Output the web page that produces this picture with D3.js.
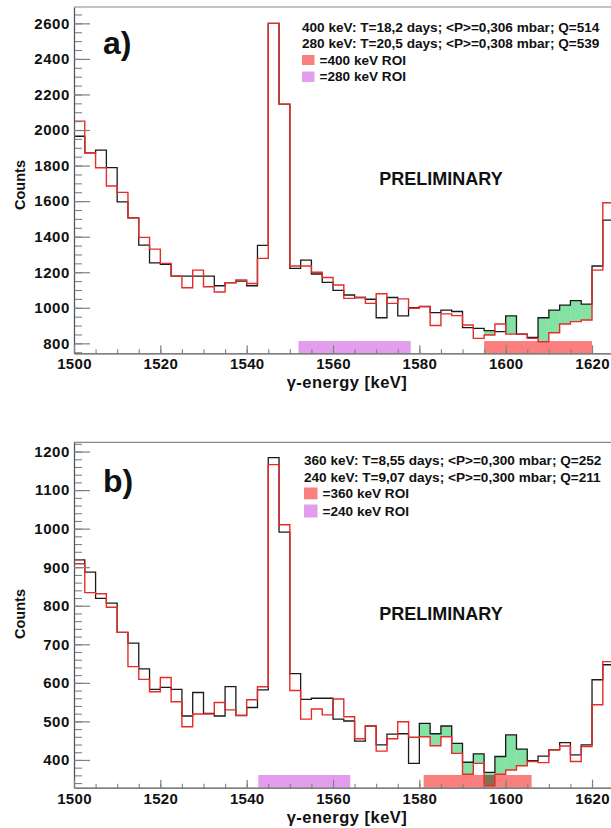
<!DOCTYPE html>
<html><head><meta charset="utf-8">
<script src="https://cdn.jsdelivr.net/npm/d3@7"></script>
<style>
body{margin:0;background:#fff;overflow:hidden}
text{font-family:"Liberation Sans",Arial,Helvetica,sans-serif;font-weight:bold;fill:#111}
</style>
</head><body><svg id="c" width="611" height="828"></svg>
<script>
// ---------- data ----------
const binStart = 1500, binWidth = 2.5;
const energyDomain = [1500, 1625];
const energyMajorTicks = [1500, 1520, 1540, 1560, 1580, 1600, 1620];
const energyMinorTicks = d3.range(1500, 1626, 5);

// panel a)
const countsA_black = [1965,1872,1887,1788,1596,1506,1353,1253,1244,1178,
  1178,1178,1178,1124,1141,1150,1124,1351,2600,2146,
  1222,1268,1190,1143,1098,1072,1058,1048,944,1058,
  954,1001,1008,973,987,979,888,884,871,866,
  954,852,834,944,987,1015,1040,1021,1235,1493];
const countsA_red = [2050,1872,1788,1685,1649,1506,1396,1330,1250,1178,
  1113,1212,1118,1089,1141,1156,1137,1278,2600,2144,
  1235,1235,1200,1170,1128,1053,1058,1025,1079,1025,
  1050,997,1006,900,966,956,903,828,847,909,
  852,852,828,809,860,909,922,931,1212,1591];
const yDomainA = [744, 2692];
const yMajorTicksA = [800,1000,1200,1400,1600,1800,2000,2200,2400,2600];
const yMinorTicksA = d3.range(750, 2692, 50);
const roiA_first = [1595, 1620];   // 400 keV ROI
const roiA_second = [1552, 1578];  // 280 keV ROI
const roiTopA = 813;
const excessRangeA = [1595, 1620];
const infoA = ["400 keV: T=18,2 days; <P>=0,306 mbar; Q=514",
               "280 keV: T=20,5 days; <P>=0,308 mbar; Q=539"];
const roiLabelsA = ["=400 keV ROI", "=280 keV ROI"];

// panel b)
const countsB_black = [919,887,819,807,731,703,636,583,588,583,
  514,575,521,514,590,515,536,582,1184,991,
  624,557,560,560,506,501,449,488,439,467,
  468,391,495,468,488,443,394,416,368,409,
  465,428,398,410,426,445,413,439,608,647];
const countsB_red = [909,834,831,796,731,642,609,577,614,551,
  486,519,519,549,530,516,556,590,1166,1010,
  580,506,532,517,558,512,455,488,423,455,
  499,459,460,437,460,417,363,391,333,363,
  374,385,396,393,426,436,396,435,543,655];
const yDomainB = [328, 1224];
const yMajorTicksB = [400,500,600,700,800,900,1000,1100,1200];
const yMinorTicksB = d3.range(340, 1224, 20);
const roiB_first = [1581, 1606];   // 360 keV ROI
const roiB_second = [1542.7, 1564]; // 240 keV ROI
const roiTopB = 361;
const excessRangeB = [1580, 1605];
const infoB = ["360 keV: T=8,55 days; <P>=0,300 mbar; Q=252",
               "240 keV: T=9,07 days; <P>=0,300 mbar; Q=211"];
const roiLabelsB = ["=360 keV ROI", "=240 keV ROI"];

// ---------- drawing ----------
const svg = d3.select("#c");
const COL = {black:"#1a1a1a", red:"#e62b2b", roi1:"#fa7f7f", roi2:"#e29eec", green:"#84e2a4", axis:"#555", tick:"#808080"};
const plotL = 74, plotR = 613.6;
const x = d3.scaleLinear().domain(energyDomain).range([plotL, plotR]);

const panels = [
  {top:7, bottom:353.3, black:countsA_black, red:countsA_red, yDom:yDomainA, major:yMajorTicksA, minor:yMinorTicksA,
   roi1:roiA_first, roi2:roiA_second, roiTop:roiTopA, excess:excessRangeA, info:infoA, roiLabels:roiLabelsA, tag:"a)",
   infoX:302, infoY:[27,43], sq:[[55,65],[71.5,82]], sqW:12.5, tagY:53.5, countsY:185, titleY:381.5},
  {top:442.3, bottom:787.7, black:countsB_black, red:countsB_red, yDom:yDomainB, major:yMajorTicksB, minor:yMinorTicksB,
   roi1:roiB_first, roi2:roiB_second, roiTop:roiTopB, excess:excessRangeB, info:infoB, roiLabels:roiLabelsB, tag:"b)",
   infoX:304, infoY:[460.7,477.5], sq:[[487.5,499.3],[504.5,517.5]], sqW:13.5, tagY:491.7, countsY:614, titleY:817}
];

panels.forEach((p, pi) => {
  const y = d3.scaleLinear().domain(p.yDom).range([p.bottom, p.top]);
  const g = svg.append("g");
  const clipId = "clip" + pi;
  g.append("clipPath").attr("id", clipId).append("rect")
    .attr("x", plotL).attr("y", p.top).attr("width", plotR - plotL).attr("height", p.bottom - p.top);
  const plot = g.append("g").attr("clip-path", `url(#${clipId})`);

  // ROI bars
  [[p.roi1, COL.roi1], [p.roi2, COL.roi2]].forEach(([r, c]) => {
    plot.append("rect").attr("x", x(r[0])).attr("width", x(r[1]) - x(r[0]))
      .attr("y", y(p.roiTop)).attr("height", y(p.yDom[0]) - y(p.roiTop)).attr("fill", c);
  });

  // excess (green) fill where black > red inside range
  const bins = p.black.map((b, i) => ({e0: binStart + i * binWidth, e1: binStart + (i + 1) * binWidth, b, r: p.red[i]}));
  plot.selectAll("rect.ex").data(bins.filter(d => d.e0 >= p.excess[0] - 1e-6 && d.e1 <= p.excess[1] + 1e-6 && d.b > d.r))
    .join("rect").attr("class", "ex")
    .attr("x", d => x(d.e0)).attr("width", d => x(d.e1) - x(d.e0))
    .attr("y", d => y(d.b)).attr("height", d => y(d.r) - y(d.b))
    .attr("fill", COL.green).style("mix-blend-mode", "multiply");

  // step histograms
  const stepLine = d3.line().x(d => x(d[0])).y(d => y(d[1])).curve(d3.curveStepAfter);
  const pts = arr => arr.map((v, i) => [binStart + i * binWidth, v]).concat([[binStart + arr.length * binWidth, arr[arr.length - 1]]]);
  plot.append("path").attr("d", stepLine(pts(p.black))).attr("fill", "none").attr("stroke", COL.black).attr("stroke-width", 1.3);
  plot.append("path").attr("d", stepLine(pts(p.red))).attr("fill", "none").attr("stroke", COL.red).attr("stroke-width", 1.4);

  // frame top
  g.append("line").attr("x1", plotL).attr("x2", plotR).attr("y1", p.top).attr("y2", p.top).attr("stroke", "#888").attr("stroke-width", 1.2);

  // y axis
  const yMinor = g.append("g").attr("transform", `translate(${plotL},0)`)
    .call(d3.axisLeft(y).tickValues(p.minor).tickSizeInner(-8).tickSizeOuter(0).tickFormat(""));
  yMinor.select(".domain").remove();
  yMinor.selectAll("line").attr("stroke", COL.tick).attr("stroke-width", 1.1);
  const yAx = g.append("g").attr("transform", `translate(${plotL},0)`)
    .call(d3.axisLeft(y).tickValues(p.major).tickSizeInner(-16).tickSizeOuter(0).tickPadding(4).tickFormat(d3.format("d")));
  yAx.select(".domain").attr("stroke", COL.axis).attr("stroke-width", 1.3);
  yAx.selectAll("line").attr("stroke", COL.tick).attr("stroke-width", 1.2);
  yAx.selectAll("text").style("font-size", "15px").style("letter-spacing", "0.6px").attr("fill", "#111");

  // x axis
  const xMinor = g.append("g").attr("transform", `translate(0,${p.bottom})`)
    .call(d3.axisBottom(x).tickValues(energyMinorTicks).tickSizeInner(-4).tickSizeOuter(0).tickFormat(""));
  xMinor.select(".domain").remove();
  xMinor.selectAll("line").attr("stroke", COL.tick).attr("stroke-width", 1.1);
  const xAx = g.append("g").attr("transform", `translate(0,${p.bottom})`)
    .call(d3.axisBottom(x).tickValues(energyMajorTicks).tickSizeInner(-8).tickSizeOuter(0).tickPadding(5.5).tickFormat(d3.format("d")));
  xAx.select(".domain").attr("stroke", COL.axis).attr("stroke-width", 1.3);
  xAx.selectAll("line").attr("stroke", COL.tick).attr("stroke-width", 1.2);
  xAx.selectAll("text").style("font-size", "15px").style("letter-spacing", "0.3px").attr("fill", "#111");

  // axis titles
  g.append("text").attr("x", 347).attr("y", p.titleY).attr("text-anchor", "middle").attr("dominant-baseline", "central")
    .style("font-size", "16.5px").style("letter-spacing", "0.5px").text("γ-energy [keV]");
  g.append("text").attr("transform", `translate(20,${p.countsY}) rotate(-90)`).attr("text-anchor", "middle")
    .attr("dominant-baseline", "central").style("font-size", "14.5px").text("Counts");

  // panel tag
  g.append("text").attr("x", 103).attr("y", p.tagY).style("font-size", "32px").text(p.tag);

  // info / legend
  p.info.forEach((t, i) => {
    g.append("text").attr("x", p.infoX).attr("y", p.infoY[i]).attr("dominant-baseline", "central")
      .style("font-size", "13.6px").text(t);
  });
  [COL.roi1, COL.roi2].forEach((c, i) => {
    const [y0, y1] = p.sq[i];
    g.append("rect").attr("x", p.infoX).attr("y", y0).attr("width", p.sqW).attr("height", y1 - y0).attr("fill", c);
    g.append("text").attr("x", p.infoX + p.sqW + 5).attr("y", (y0 + y1) / 2).attr("dominant-baseline", "central")
      .style("font-size", "13.6px").text(p.roiLabels[i]);
  });

  // PRELIMINARY
  g.append("text").attr("x", 441).attr("y", p.top + 171.5).attr("text-anchor", "middle").attr("dominant-baseline", "central")
    .style("font-size", "18px").text("PRELIMINARY");
});
</script>
</body></html>
